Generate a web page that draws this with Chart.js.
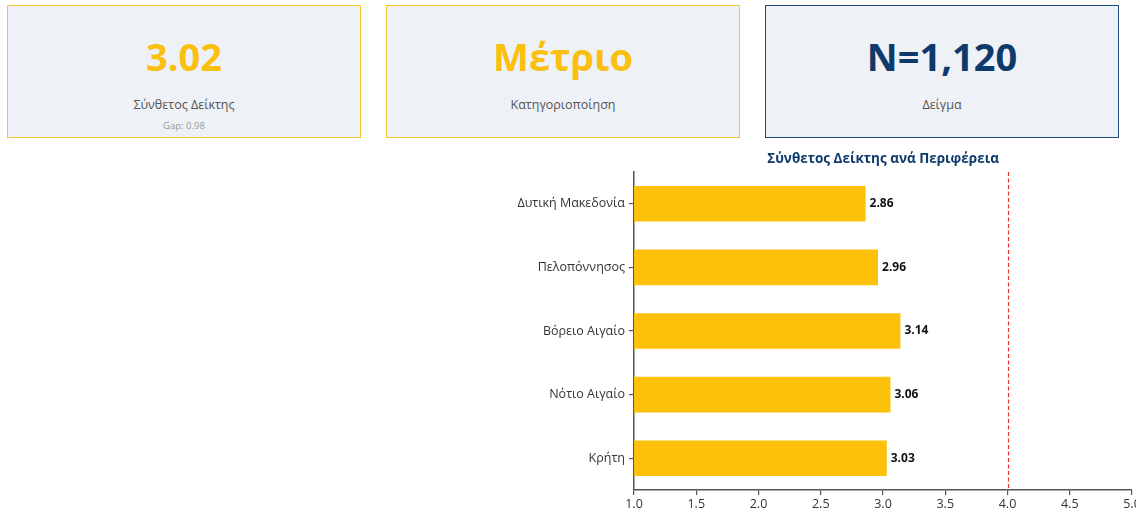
<!DOCTYPE html>
<html>
<head>
<meta charset="utf-8">
<script src="https://cdn.jsdelivr.net/npm/chart.js@4.4.1/dist/chart.umd.min.js"></script>
<style>
  html, body { margin:0; padding:0; width:1136px; height:518px; overflow:hidden; background:#fff; font-family:"Open Sans", "Noto Sans", sans-serif; }
  .card { position:absolute; top:5px; width:352px; height:131px; background:#eef1f6; border:1.5px solid #f5c62e; box-sizing:content-box; text-align:center; }
  .card.navy { border-color:#1f4a7a; }
  .big { position:absolute; left:0; right:0; top:24px; font-size:38px; font-weight:700; line-height:52px; }
  .lbl { position:absolute; left:0; right:0; top:89px; font-size:12.5px; color:#555; line-height:20px; }
  .sub { position:absolute; left:0; right:0; top:113px; font-size:9.5px; color:#999; line-height:14px; }
  #wrap { position:absolute; left:470px; top:146px; width:760px; height:372px; }
</style>
</head>
<body>
<div class="card" style="left:7px;"><div class="big" style="color:#fbbf10;">3.02</div><div class="lbl">Σύνθετος Δείκτης</div><div class="sub">Gap: 0.98</div></div>
<div class="card" style="left:386px;"><div class="big" style="color:#fbbf10;">Μέτριο</div><div class="lbl">Κατηγοριοποίηση</div></div>
<div class="card navy" style="left:765px;"><div class="big" style="color:#0d3a6b;">N=1,120</div><div class="lbl">Δείγμα</div></div>
<div id="wrap"><canvas id="c"></canvas></div>
<script>
const regions = ["Δυτική Μακεδονία", "Πελοπόννησος", "Βόρειο Αιγαίο", "Νότιο Αιγαίο", "Κρήτη"];
const indexValues = [2.86, 2.96, 3.14, 3.06, 3.03];
const targetValue = 4.0;
const xTicks = [1.0, 1.5, 2.0, 2.5, 3.0, 3.5, 4.0, 4.5, 5.0];
const chartTitle = "Σύνθετος Δείκτης ανά Περιφέρεια";

const extras = {
  id: 'extras',
  afterDatasetsDraw(chart) {
    const ctx = chart.ctx, area = chart.chartArea;
    const xs = chart.scales.x;
    const tx = Math.round(xs.getPixelForValue(targetValue)) + 0.5;
    ctx.save();
    ctx.strokeStyle = '#e8332a';
    ctx.lineWidth = 1.2;
    ctx.setLineDash([4, 2.5]);
    ctx.beginPath();
    ctx.moveTo(tx, area.top);
    ctx.lineTo(tx, area.bottom);
    ctx.stroke();
    ctx.setLineDash([]);
    ctx.fillStyle = '#111';
    ctx.font = 'bold 12px "Open Sans", sans-serif';
    ctx.textBaseline = 'middle';
    ctx.textAlign = 'left';
    chart.getDatasetMeta(0).data.forEach((bar, i) => {
      ctx.fillText(indexValues[i].toFixed(2), bar.x + 4, bar.y);
    });
    ctx.fillStyle = '#0d3a6b';
    ctx.font = 'bold 13.5px "Open Sans", sans-serif';
    ctx.textAlign = 'center';
    ctx.fillText(chartTitle, (area.left + area.right) / 2, 13);
    ctx.restore();
  }
};

new Chart(document.getElementById('c'), {
  type: 'bar',
  data: {
    labels: regions,
    datasets: [{ data: indexValues, backgroundColor: '#fdc10a', borderWidth: 0, barPercentage: 0.56, categoryPercentage: 1 }]
  },
  options: {
    indexAxis: 'y',
    responsive: true,
    maintainAspectRatio: false,
    animation: false,
    layout: { padding: { top: 26, right: 98, bottom: 0, left: 0 } },
    plugins: { legend: { display: false }, title: { display: false }, tooltip: { enabled: false } },
    scales: {
      x: {
        min: 1, max: 5,
        afterBuildTicks(s) { s.ticks = xTicks.map(v => ({ value: v })); },
        afterFit(s) { s.height = 28; },
        grid: { drawOnChartArea: false, drawTicks: true, tickLength: 5, color: '#555', lineWidth: 1.2 },
        border: { display: true, color: '#555', width: 1.5 },
        ticks: { color: '#333', font: { family: '"Open Sans", sans-serif', size: 12.5 }, padding: 2, callback: v => Number(v).toFixed(1), maxRotation: 0 }
      },
      y: {
        afterFit(s) { s.width = 164; },
        grid: { offset: false, drawOnChartArea: false, drawTicks: true, tickLength: 5, color: '#555', lineWidth: 1.2 },
        border: { display: true, color: '#555', width: 1.5 },
        ticks: { color: '#333', font: { family: '"Open Sans", sans-serif', size: 12.5 }, padding: 4 }
      }
    }
  },
  plugins: [extras]
});
</script>
</body>
</html>
